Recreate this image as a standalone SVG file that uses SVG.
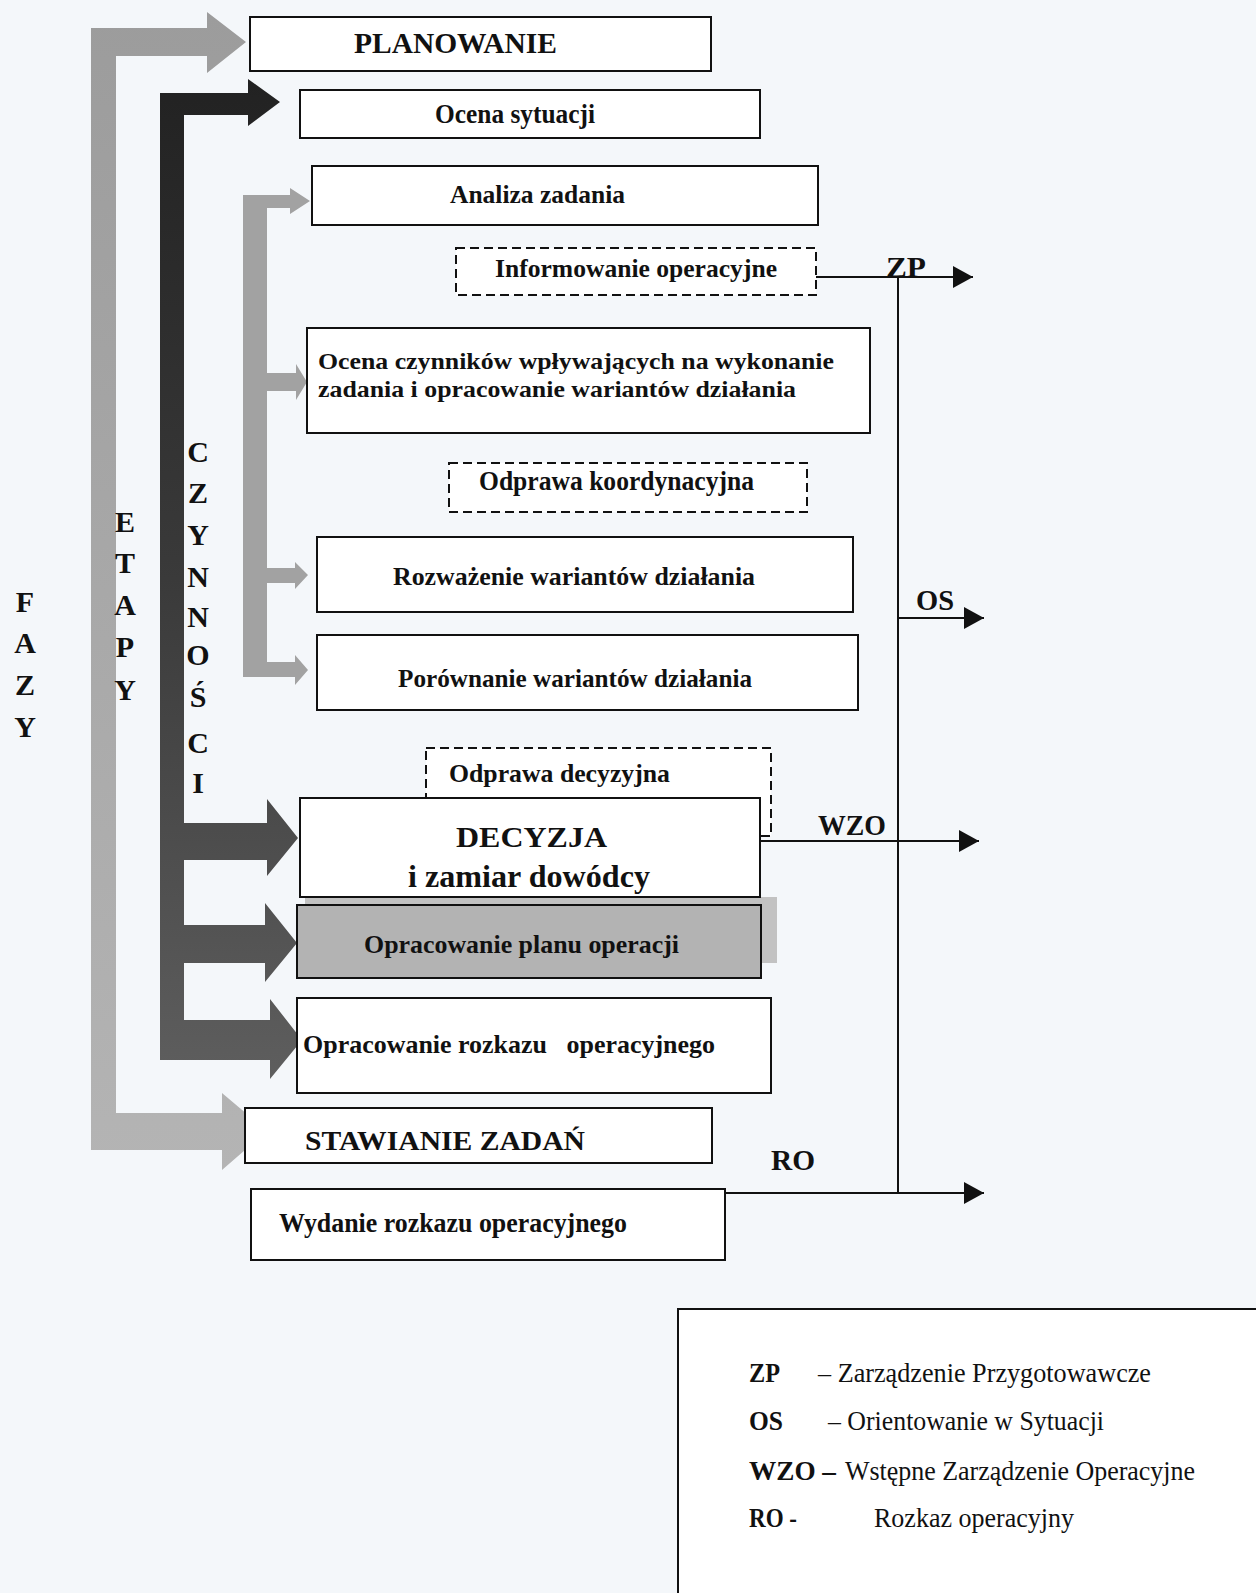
<svg xmlns="http://www.w3.org/2000/svg" width="1256" height="1593" viewBox="0 0 1256 1593">
<style>
.bx{fill:#fff;stroke:#111;stroke-width:2}
.ds{fill:#fff;stroke:#111;stroke-width:2;stroke-dasharray:9,5}
.t{font-family:"Liberation Serif","Times New Roman",serif;font-weight:bold;fill:#111;font-size:26px}
.r{font-family:"Liberation Serif","Times New Roman",serif;fill:#111;font-size:28px}
.v{font-family:"Liberation Serif","Times New Roman",serif;font-weight:bold;fill:#111;font-size:30px;text-anchor:middle}
.ln{stroke:#111;stroke-width:2;fill:none}
</style>
<defs>
<marker id="ah" markerUnits="userSpaceOnUse" markerWidth="22" markerHeight="22" refX="20" refY="11" orient="auto">
<path d="M0,0 L20,11 L0,22 Z" fill="#111"/>
</marker>
<linearGradient id="gF" x1="0" y1="0" x2="0" y2="1">
<stop offset="0" stop-color="#9c9c9c"/><stop offset="1" stop-color="#b4b4b4"/>
</linearGradient>
<linearGradient id="gE" x1="0" y1="0" x2="0" y2="1">
<stop offset="0" stop-color="#222"/><stop offset="0.5" stop-color="#3a3a3a"/><stop offset="1" stop-color="#5e5e5e"/>
</linearGradient>
</defs>
<rect x="0" y="0" width="1256" height="1593" fill="#f4f7fa"/>

<g id="connectors">
<path id="fazy-arrow" d="M91,28 L207,28 L207,12 L246,42 L207,73 L207,56 L116,56 L116,1113 L222,1113 L222,1093 L267,1131 L222,1170 L222,1150 L91,1150 Z" fill="url(#gF)"/>
<path id="etapy-arrow" d="M160,93 L248,93 L248,79 L280,102 L248,126 L248,115 L184,115 L184,823 L267,823 L267,799 L298,838 L267,876 L267,860 L184,860 L184,925 L265,925 L265,903 L297,943 L265,982 L265,963 L184,963 L184,1020 L270,1020 L270,999 L302,1040 L270,1079 L270,1060 L160,1060 Z" fill="url(#gE)"/>
<path id="czynnosci-arrow" d="M243,195 L290,195 L290,188 L310,201 L290,214 L290,208 L267,208 L267,373 L296,373 L296,364 L307,382 L296,400 L296,391 L267,391 L267,568 L295,568 L295,562 L308,575 L295,589 L295,583 L267,583 L267,662 L295,662 L295,655 L308,670 L295,685 L295,677 L243,677 Z" fill="#a2a2a2"/>
<line class="ln" x1="816" y1="277" x2="973" y2="277" marker-end="url(#ah)"/>
<line class="ln" x1="898" y1="277" x2="898" y2="1193"/>
<line class="ln" x1="898" y1="618" x2="984" y2="618" marker-end="url(#ah)"/>
<line class="ln" x1="760" y1="841" x2="979" y2="841" marker-end="url(#ah)"/>
<line class="ln" x1="725" y1="1193" x2="984" y2="1193" marker-end="url(#ah)"/>
<text class="t" x="886" y="277" style="font-size:30px" textLength="40" lengthAdjust="spacingAndGlyphs">ZP</text>
<text class="t" x="916" y="610" style="font-size:30px" textLength="38" lengthAdjust="spacingAndGlyphs">OS</text>
<text class="t" x="818" y="835" style="font-size:30px" textLength="68" lengthAdjust="spacingAndGlyphs">WZO</text>
<text class="t" x="771" y="1170" style="font-size:30px" textLength="44" lengthAdjust="spacingAndGlyphs">RO</text>
</g>

<g id="fazy-label">
<text class="v" x="25" y="612">F</text>
<text class="v" x="25" y="653">A</text>
<text class="v" x="25" y="695">Z</text>
<text class="v" x="25" y="737">Y</text>
</g>
<g id="etapy-label">
<text class="v" x="125" y="532">E</text>
<text class="v" x="125" y="573">T</text>
<text class="v" x="125" y="615">A</text>
<text class="v" x="125" y="657">P</text>
<text class="v" x="125" y="700">Y</text>
</g>
<g id="czynnosci-label">
<text class="v" x="198" y="462">C</text>
<text class="v" x="198" y="503">Z</text>
<text class="v" x="198" y="545">Y</text>
<text class="v" x="198" y="587">N</text>
<text class="v" x="198" y="627">N</text>
<text class="v" x="198" y="665">O</text>
<text class="v" x="198" y="707">Ś</text>
<text class="v" x="198" y="753">C</text>
<text class="v" x="198" y="793">I</text>
</g>

<g id="planowanie">
<rect class="bx" x="250" y="17" width="461" height="54"/>
<text class="t" x="354" y="53" style="font-size:30px" textLength="203" lengthAdjust="spacingAndGlyphs">PLANOWANIE</text>
</g>
<g id="ocena-sytuacji">
<rect class="bx" x="300" y="90" width="460" height="48"/>
<text class="t" x="435" y="123" style="font-size:27px" textLength="160" lengthAdjust="spacingAndGlyphs">Ocena sytuacji</text>
</g>
<g id="analiza-zadania">
<rect class="bx" x="312" y="166" width="506" height="59"/>
<text class="t" x="450" y="203" style="font-size:25px" textLength="175" lengthAdjust="spacingAndGlyphs">Analiza zadania</text>
</g>
<g id="informowanie">
<rect class="ds" x="456" y="248" width="360" height="47"/>
<text class="t" x="495" y="277" textLength="282" lengthAdjust="spacingAndGlyphs">Informowanie operacyjne</text>
</g>
<g id="ocena-czynnikow">
<rect class="bx" x="307" y="328" width="563" height="105"/>
<text class="t" x="318" y="369" style="font-size:23px" textLength="516" lengthAdjust="spacingAndGlyphs">Ocena czynników wpływających na wykonanie</text>
<text class="t" x="318" y="397" style="font-size:23px" textLength="478" lengthAdjust="spacingAndGlyphs">zadania i opracowanie wariantów działania</text>
</g>
<g id="odprawa-koordynacyjna">
<rect class="ds" x="449" y="463" width="358" height="49"/>
<text class="t" x="479" y="490" style="font-size:27px" textLength="275" lengthAdjust="spacingAndGlyphs">Odprawa koordynacyjna</text>
</g>
<g id="rozwazenie">
<rect class="bx" x="317" y="537" width="536" height="75"/>
<text class="t" x="393" y="585" textLength="362" lengthAdjust="spacingAndGlyphs">Rozważenie wariantów działania</text>
</g>
<g id="porownanie">
<rect class="bx" x="317" y="635" width="541" height="75"/>
<text class="t" x="398" y="687" textLength="354" lengthAdjust="spacingAndGlyphs">Porównanie wariantów działania</text>
</g>
<g id="odprawa-decyzyjna">
<rect class="ds" x="426" y="748" width="345" height="88"/>
<text class="t" x="449" y="782" style="font-size:25px" textLength="221" lengthAdjust="spacingAndGlyphs">Odprawa decyzyjna</text>
</g>
<g id="plan-shadow">
<rect x="305" y="897" width="472" height="66" fill="#c2c2c2"/>
</g>
<g id="decyzja">
<rect class="bx" x="300" y="798" width="460" height="99"/>
<text class="t" x="456" y="847" style="font-size:30px" textLength="151" lengthAdjust="spacingAndGlyphs">DECYZJA</text>
<text class="t" x="408" y="887" style="font-size:31px" textLength="242" lengthAdjust="spacingAndGlyphs">i zamiar dowódcy</text>
</g>
<g id="plan-operacji">
<rect class="bx" x="297" y="905" width="464" height="73" style="fill:#b3b3b3"/>
<text class="t" x="364" y="953" style="font-size:25px" textLength="315" lengthAdjust="spacingAndGlyphs">Opracowanie planu operacji</text>
</g>
<g id="rozkaz-operacyjny">
<rect class="bx" x="297" y="998" width="474" height="95"/>
<text class="t" x="303" y="1053" style="font-size:25px" xml:space="preserve" textLength="412" lengthAdjust="spacingAndGlyphs">Opracowanie rozkazu   operacyjnego</text>
</g>
<g id="stawianie-zadan">
<rect class="bx" x="245" y="1108" width="467" height="55"/>
<text class="t" x="305" y="1150" style="font-size:28px" textLength="280" lengthAdjust="spacingAndGlyphs">STAWIANIE ZADAŃ</text>
</g>
<g id="wydanie-rozkazu">
<rect class="bx" x="251" y="1189" width="474" height="71"/>
<text class="t" x="279" y="1232" style="font-size:27px" textLength="348" lengthAdjust="spacingAndGlyphs">Wydanie rozkazu operacyjnego</text>
</g>

<g id="legend">
<rect class="bx" x="678" y="1309" width="600" height="300"/>
<text class="r" x="749" y="1382" font-weight="bold" textLength="31" lengthAdjust="spacingAndGlyphs">ZP</text>
<text class="r" x="818" y="1382" textLength="333" lengthAdjust="spacingAndGlyphs">– Zarządzenie Przygotowawcze</text>
<text class="r" x="749" y="1430" font-weight="bold" textLength="34" lengthAdjust="spacingAndGlyphs">OS</text>
<text class="r" x="828" y="1430" textLength="276" lengthAdjust="spacingAndGlyphs">– Orientowanie w Sytuacji</text>
<text class="r" x="749" y="1480" font-weight="bold" textLength="87" lengthAdjust="spacingAndGlyphs">WZO –</text>
<text class="r" x="845" y="1480" textLength="350" lengthAdjust="spacingAndGlyphs">Wstępne Zarządzenie Operacyjne</text>
<text class="r" x="749" y="1527" font-weight="bold" textLength="48" lengthAdjust="spacingAndGlyphs">RO -</text>
<text class="r" x="874" y="1527" textLength="200" lengthAdjust="spacingAndGlyphs">Rozkaz operacyjny</text>
</g>
</svg>
